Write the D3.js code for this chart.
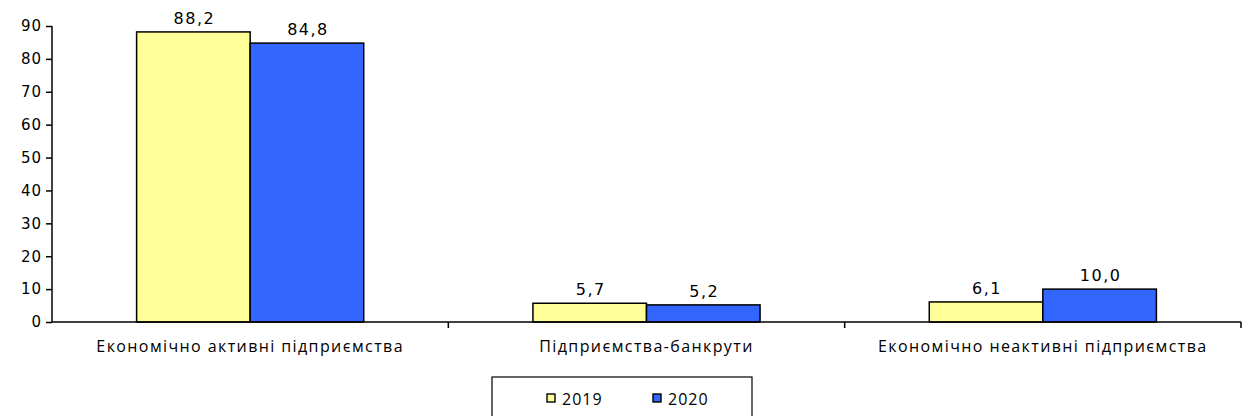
<!DOCTYPE html>
<html>
<head>
<meta charset="utf-8">
<script src="https://cdn.jsdelivr.net/npm/d3@7"></script>
<style>
  body { margin: 0; background: #fff; }
  svg text { fill: #000; }
</style>
</head>
<body>
<svg width="1244" height="416"></svg>
<script>
var categories = ["Економічно активні підприємства", "Підприємства-банкрути", "Економічно неактивні підприємства"];
var years = ["2019", "2020"];
var values2019 = [88.2, 5.7, 6.1];
var values2020 = [84.8, 5.2, 10.0];
var yTicks = [0, 10, 20, 30, 40, 50, 60, 70, 80, 90];
var colors = ["#FFFF99", "#3366FF"];

var svg = d3.select("svg");
var mLeft = 52, mRight = 1241, mTop = 26, mBottom = 322;

var x = d3.scaleBand().domain(categories).range([mLeft, mRight]).paddingInner(0).paddingOuter(0);
var xs = d3.scaleBand().domain(years).range([0, x.bandwidth()]).paddingInner(0).paddingOuter(0.745);
var y = d3.scaleLinear().domain([0, 90]).range([mBottom, mTop]);

var fmt = function (v) { return d3.format(".1f")(v).replace(".", ","); };

// y axis
var yAxis = svg.append("g")
    .attr("transform", "translate(" + mLeft + ",0)")
    .call(d3.axisLeft(y).tickValues(yTicks).tickSize(6).tickPadding(4));
yAxis.select(".domain").attr("stroke", "#000").attr("stroke-width", 1.5).attr("d", "M0," + mTop + "V" + mBottom);
yAxis.selectAll(".tick line").attr("stroke", "#000").attr("stroke-width", 1.5);
yAxis.selectAll("text")
    .attr("font-family", "DejaVu Sans, Verdana")
    .attr("font-size", 15)
    .attr("letter-spacing", "1px");

// bars
var data = categories.map(function (c, i) {
    return { cat: c, vals: [{ year: "2019", v: values2019[i] }, { year: "2020", v: values2020[i] }] };
});

var groups = svg.append("g").selectAll("g")
    .data(data)
    .enter().append("g")
    .attr("transform", function (d) { return "translate(" + x(d.cat) + ",0)"; });

groups.selectAll("rect")
    .data(function (d) { return d.vals; })
    .enter().append("rect")
    .attr("x", function (d) { return xs(d.year); })
    .attr("y", function (d) { return y(d.v); })
    .attr("width", xs.bandwidth())
    .attr("height", function (d) { return mBottom - y(d.v); })
    .attr("fill", function (d, i) { return colors[i]; })
    .attr("stroke", "#000")
    .attr("stroke-width", 1.5);

groups.selectAll("text.val")
    .data(function (d) { return d.vals; })
    .enter().append("text")
    .attr("class", "val")
    .attr("x", function (d) { return xs(d.year) + xs.bandwidth() / 2 + 1; })
    .attr("y", function (d) { return y(d.v) - 8; })
    .attr("text-anchor", "middle")
    .attr("font-family", "DejaVu Sans, Verdana")
    .attr("font-size", 16)
    .attr("letter-spacing", "1.5px")
    .text(function (d) { return fmt(d.v); });

// x axis
var xAxis = svg.append("g")
    .attr("transform", "translate(0," + mBottom + ")")
    .call(d3.axisBottom(x).tickSize(0).tickPadding(19));
xAxis.select(".domain").attr("stroke", "#000").attr("stroke-width", 1.5).attr("d", "M" + mLeft + ",0H" + mRight);
xAxis.selectAll("text")
    .attr("font-family", "Open Sans, Liberation Sans")
    .attr("font-size", 16)
    .attr("letter-spacing", "1.4px");

// category boundary ticks
svg.append("g").selectAll("line")
    .data(categories.slice(1).concat(["end"]))
    .enter().append("line")
    .attr("x1", function (d) { return d === "end" ? mRight : x(d); })
    .attr("x2", function (d) { return d === "end" ? mRight : x(d); })
    .attr("y1", mBottom)
    .attr("y2", mBottom + 6)
    .attr("stroke", "#000")
    .attr("stroke-width", 1.5);

// legend
var legend = svg.append("g").attr("transform", "translate(492,377)");
legend.append("rect")
    .attr("x", 0).attr("y", 0).attr("width", 260).attr("height", 45)
    .attr("fill", "#fff").attr("stroke", "#000").attr("stroke-width", 1.2);
var items = legend.selectAll("g.item")
    .data(years)
    .enter().append("g")
    .attr("class", "item")
    .attr("transform", function (d, i) { return "translate(" + (55 + i * 106) + ",17)"; });
items.append("rect")
    .attr("width", 8).attr("height", 8)
    .attr("fill", function (d, i) { return colors[i]; })
    .attr("stroke", "#000").attr("stroke-width", 1.4);
items.append("text")
    .attr("x", 15).attr("y", 11)
    .attr("font-family", "Open Sans, Liberation Sans")
    .attr("font-size", 16)
    .attr("letter-spacing", "1px")
    .text(function (d) { return d; });
</script>
</body>
</html>
